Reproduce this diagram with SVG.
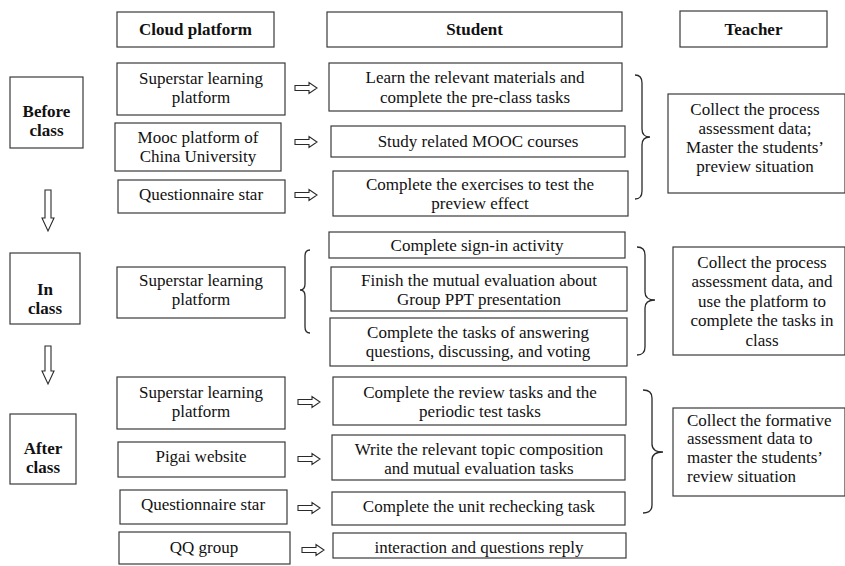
<svg xmlns="http://www.w3.org/2000/svg" width="845" height="566" viewBox="0 0 845 566">
<style>
.b{fill:#fff;stroke:#3a3a3a;stroke-width:1.2}
text{font-family:"Liberation Serif","Times New Roman",serif;font-size:17px;fill:#111}
.c{text-anchor:middle}
.h{font-weight:bold}
.ar{fill:#fff;stroke:#2a2a2a;stroke-width:1.1}
.br{fill:none;stroke:#2a2a2a;stroke-width:1.3}
</style>
<defs>
<path id="ra" d="M0,-2.5 H14 V-5.5 L22,0 L14,5.5 V2.5 H0 Z"/>
</defs>
<rect width="845" height="566" fill="#fff"/>

<g id="hdr-cloud"><rect class="b" x="117" y="12" width="157" height="35"/><text class="c h" x="195.5" y="35">Cloud platform</text></g>
<g id="hdr-student"><rect class="b" x="327" y="12" width="295" height="35"/><text class="c h" x="474.5" y="35">Student</text></g>
<g id="hdr-teacher"><rect class="b" x="680" y="11" width="147" height="36"/><text class="c h" x="753.5" y="35">Teacher</text></g>

<g id="stage-before"><rect class="b" x="10" y="77" width="73" height="71"/><text class="c h" x="46.5" y="117">Before</text><text class="c h" x="46.5" y="136">class</text></g>
<g id="stage-in"><rect class="b" x="10" y="253" width="70" height="71"/><text class="c h" x="45" y="295">In</text><text class="c h" x="45" y="314">class</text></g>
<g id="stage-after"><rect class="b" x="10" y="414" width="66" height="70"/><text class="c h" x="43" y="454">After</text><text class="c h" x="43" y="473">class</text></g>

<g id="cp1"><rect class="b" x="117" y="63" width="168" height="52"/><text class="c" x="201" y="84">Superstar learning</text><text class="c" x="201" y="103">platform</text></g>
<g id="cp2"><rect class="b" x="115" y="123" width="166" height="48"/><text class="c" x="198" y="143">Mooc platform of</text><text class="c" x="198" y="162">China University</text></g>
<g id="cp3"><rect class="b" x="118" y="180" width="167" height="33"/><text class="c" x="201" y="200">Questionnaire star</text></g>
<g id="cp4"><rect class="b" x="117" y="267" width="168" height="51"/><text class="c" x="201" y="286">Superstar learning</text><text class="c" x="201" y="305">platform</text></g>
<g id="cp5"><rect class="b" x="117" y="377" width="168" height="52"/><text class="c" x="201" y="398">Superstar learning</text><text class="c" x="201" y="417">platform</text></g>
<g id="cp6"><rect class="b" x="118" y="442" width="167" height="35"/><text class="c" x="201" y="462">Pigai website</text></g>
<g id="cp7"><rect class="b" x="120" y="490" width="167" height="34"/><text class="c" x="203" y="510">Questionnaire star</text></g>
<g id="cp8"><rect class="b" x="119" y="532" width="171" height="32"/><text class="c" x="204" y="553">QQ group</text></g>

<g id="st1"><rect class="b" x="329" y="63" width="293" height="48"/><text class="c" x="475" y="83">Learn the relevant materials and</text><text class="c" x="475" y="103">complete the pre-class tasks</text></g>
<g id="st2"><rect class="b" x="331" y="126" width="294" height="31"/><text class="c" x="478" y="147">Study related MOOC courses</text></g>
<g id="st3"><rect class="b" x="333" y="171" width="295" height="45"/><text class="c" x="480" y="190">Complete the exercises to test the</text><text class="c" x="480" y="209">preview effect</text></g>
<g id="st4"><rect class="b" x="329" y="232" width="296" height="26"/><text class="c" x="477" y="251">Complete sign-in activity</text></g>
<g id="st5"><rect class="b" x="331" y="267" width="296" height="44"/><text class="c" x="479" y="286">Finish the mutual evaluation about</text><text class="c" x="479" y="305">Group PPT presentation</text></g>
<g id="st6"><rect class="b" x="330" y="318" width="297" height="48"/><text class="c" x="478" y="338">Complete the tasks of answering</text><text class="c" x="478" y="357">questions, discussing, and voting</text></g>
<g id="st7"><rect class="b" x="333" y="377" width="293" height="48"/><text class="c" x="480" y="398">Complete the review tasks and the</text><text class="c" x="480" y="417">periodic test tasks</text></g>
<g id="st8"><rect class="b" x="332" y="435" width="293" height="45"/><text class="c" x="479" y="455">Write the relevant topic composition</text><text class="c" x="479" y="474">and mutual evaluation tasks</text></g>
<g id="st9"><rect class="b" x="332" y="492" width="293" height="33"/><text class="c" x="479" y="512">Complete the unit rechecking task</text></g>
<g id="st10"><rect class="b" x="333" y="533" width="293" height="25"/><text class="c" x="479" y="553">interaction and questions reply</text></g>

<g id="te1"><rect class="b" x="668" y="94" width="177" height="99"/><text class="c" x="755" y="115">Collect the process</text><text class="c" x="755" y="134">assessment data;</text><text class="c" x="755" y="153">Master the students’</text><text class="c" x="755" y="172">preview situation</text></g>
<g id="te2"><rect class="b" x="673" y="247" width="172" height="108"/><text class="c" x="762" y="268">Collect the process</text><text class="c" x="762" y="287">assessment data, and</text><text class="c" x="762" y="307">use the platform to</text><text class="c" x="762" y="326">complete the tasks in</text><text class="c" x="762" y="346">class</text></g>
<g id="te3"><rect class="b" x="673" y="408" width="172" height="88"/><text x="687" y="426">Collect the formative</text><text x="687" y="444">assessment data to</text><text x="687" y="463">master the students’</text><text x="687" y="482">review situation</text></g>

<g id="connectors">
<use href="#ra" class="ar" x="295" y="88"/>
<use href="#ra" class="ar" x="295" y="142"/>
<use href="#ra" class="ar" x="295" y="195"/>
<use href="#ra" class="ar" x="298" y="402"/>
<use href="#ra" class="ar" x="298" y="459"/>
<use href="#ra" class="ar" x="298" y="508"/>
<use href="#ra" class="ar" x="302" y="550"/>
<path class="ar" d="M45,190 H51 V218 H54 L48,231 L42,218 H45 Z"/>
<path class="ar" d="M45,346 H51 V371 H54 L48,384 L42,371 H45 Z"/>
<path class="br" d="M635,75 Q642,75 642,83 V129 Q642,137 650,137 Q642,137 642,145 V191 Q642,199 635,199"/>
<path class="br" d="M310,250 Q305,250 305,256 V284 Q305,290 300,290 Q305,290 305,296 V327 Q305,333 310,333"/>
<path class="br" d="M637,247 Q645,247 645,255 V292 Q645,300 655,300 Q645,300 645,308 V347 Q645,355 637,355"/>
<path class="br" d="M643,390 Q652,390 652,398 V444 Q652,452 663,452 Q652,452 652,460 V505 Q652,513 643,513"/>
</g>
</svg>
